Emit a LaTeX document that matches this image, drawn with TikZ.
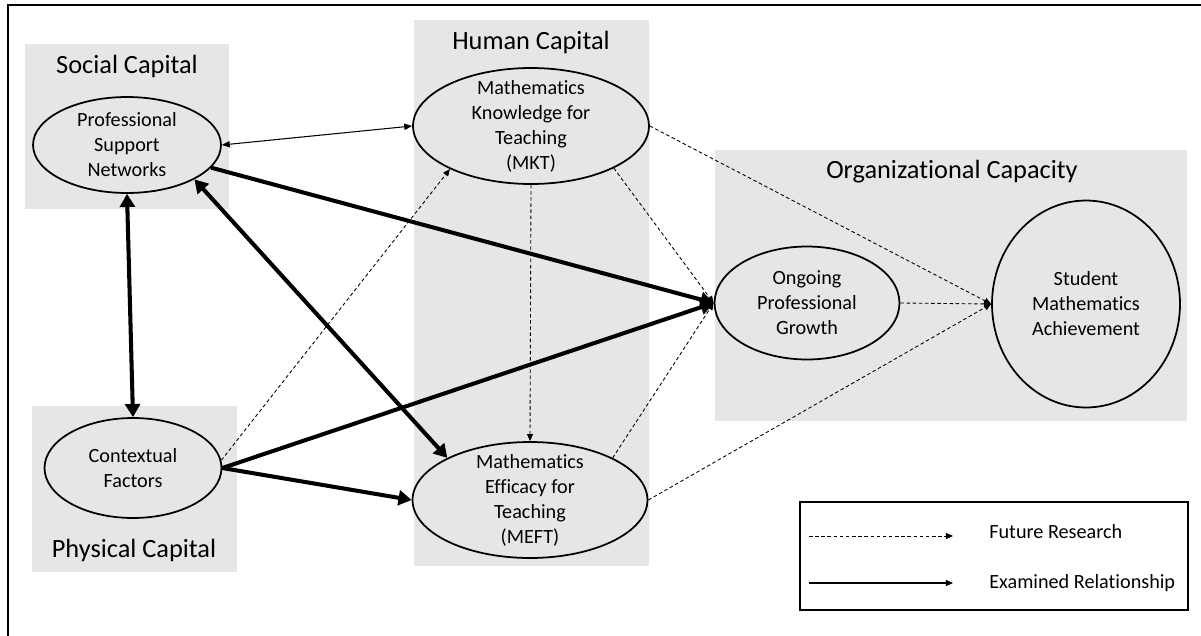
\documentclass[tikz,border=0pt]{standalone}
\usepackage{fontspec}
\setmainfont{Carlito}[Ligatures=NoCommon]
\usetikzlibrary{arrows.meta}
\usetikzlibrary{shapes.geometric}

\definecolor{capgray}{HTML}{E6E6E6}

\tikzset{
    construct/.style={ellipse, draw=black, line width=1pt, fill=capgray, inner sep=0pt},
    ctext/.style={align=center, inner sep=0pt, font=\fontsize{11.5}{14.2}\selectfont},
    captitle/.style={font=\fontsize{15}{18}\selectfont},
    legtext/.style={anchor=base west, inner sep=0pt, font=\fontsize{11.5}{14}\selectfont},
    examined/.style={line width=2.3pt, -{Triangle[length=7.5pt,width=8.5pt]}},
    examinedboth/.style={line width=2.3pt, {Triangle[length=7.5pt,width=8.5pt]}-{Triangle[length=7.5pt,width=8.5pt]}},
    linked/.style={line width=0.6pt, {Triangle[length=4.5pt,width=3.6pt]}-{Triangle[length=4.5pt,width=3.6pt]}},
    future/.style={line width=0.5pt, dash pattern=on 2pt off 1.5pt, -{Triangle[length=4pt,width=3.4pt]}},
}

\begin{document}
\begin{tikzpicture}[x=0.02cm,y=-0.02cm]
    \useasboundingbox (0,0) rectangle (1201,636);
    \clip (0,0) rectangle (1201,636);
    \draw[line width=1.7pt] (8,5) rectangle (1215,650);

    % capital areas
    \fill[capgray] (25,44) rectangle (229,209);
    \fill[capgray] (32,406) rectangle (237,572);
    \fill[capgray] (414,20) rectangle (649,566);
    \fill[capgray] (715,150) rectangle (1187,421);

    \node[captitle] (tsoc) at (127,66) {Social Capital};
    \node[captitle] (tphys) at (134,550) {Physical Capital};
    \node[captitle] (thum) at (531,42) {Human Capital};
    \node[captitle] (torg) at (952,172) {Organizational Capacity};

    % constructs
    \node[construct, minimum width=3.76cm, minimum height=1.92cm,
        label={[ctext]center:Professional\\Support\\Networks}] (psn) at (127,145) {};
    \node[construct, minimum width=3.54cm, minimum height=2cm,
        label={[ctext]center:Contextual\\Factors}] (cf) at (133,468) {};
    \node[construct, minimum width=4.72cm, minimum height=2.32cm,
        label={[ctext]center:Mathematics\\Knowledge for\\Teaching\\(MKT)}] (mkt) at (531,126) {};
    \node[construct, minimum width=4.7cm, minimum height=2.32cm,
        label={[ctext]center:Mathematics\\Efficacy for\\Teaching\\(MEFT)}] (meft) at (530,500) {};
    \node[construct, minimum width=3.7cm, minimum height=2.26cm,
        label={[ctext]center:Ongoing\\Professional\\Growth}] (opg) at (807,303) {};
    \node[construct, minimum width=3.76cm, minimum height=4.14cm,
        label={[ctext]center:Student\\Mathematics\\Achievement}] (sma) at (1086,304) {};

    % relationships
    \draw[linked] (psn.east) -- (mkt.west);
    \draw[examined] (psn) -- (opg.west);
    \draw[examinedboth] (psn.-27) -- (meft.153);
    \draw[examinedboth] (psn.south) -- (cf.north);
    \draw[future] (cf.5) -- (mkt.-152);
    \draw[examined] (cf.east) -- (opg.west);
    \draw[examined] (cf.east) -- (meft.west);
    \draw[future] (mkt.south) -- (meft.north);
    \draw[future] (mkt.-27) -- (opg.west);
    \draw[future] (meft.27) -- (opg.west);
    \draw[future] (mkt.east) -- (sma.west);
    \draw[future] (meft.east) -- (sma.west);
    \draw[future] (opg.east) -- (sma.west);

    % legend
    \draw[line width=1.1pt] (800,502) rectangle (1188,610);
    \coordinate (fa) at (809,536);
    \coordinate (fb) at (953,536);
    \coordinate (ea) at (809,583);
    \coordinate (eb) at (953,583);
    \draw[future] (fa) -- (fb);
    \draw[line width=0.6pt, -{Triangle[length=4pt,width=3.4pt]}] (ea) -- (eb);
    \node[legtext] (lfut) at (989,538) {Future Research};
    \node[legtext] (lexa) at (989,588) {Examined Relationship};
\end{tikzpicture}
\end{document}
